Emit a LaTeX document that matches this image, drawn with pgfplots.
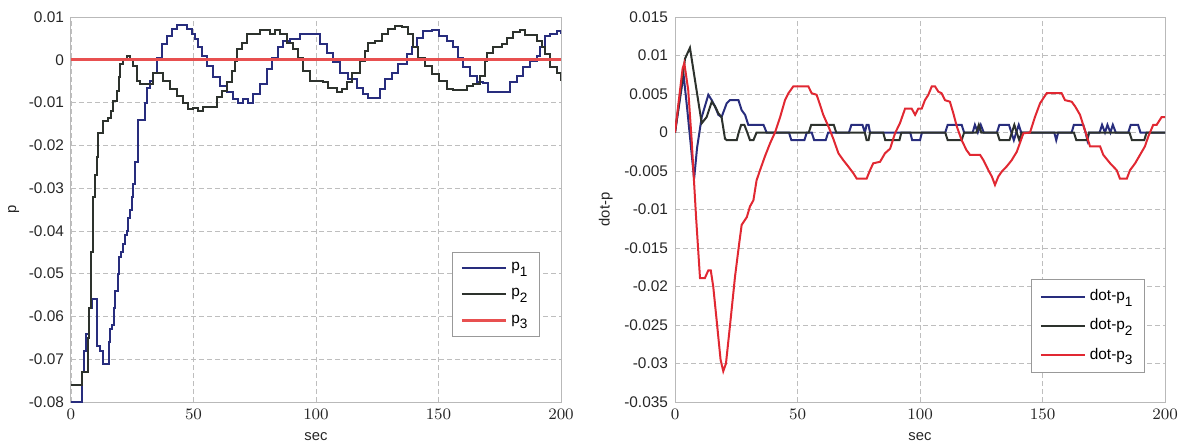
\documentclass[border=0pt]{standalone}
\usepackage{pgfplots}
\pgfplotsset{compat=1.18}
\usepackage{fontspec}
\setmainfont{Liberation Sans}
\definecolor{cblue}{RGB}{40,45,125}
\definecolor{cblack}{RGB}{45,50,45}
\definecolor{cred}{RGB}{225,40,50}
\definecolor{cred2}{RGB}{232,80,80}
\definecolor{gridc}{RGB}{190,190,190}
\definecolor{framec}{RGB}{185,185,185}
\newcommand{\sub}[1]{\raisebox{-0.7ex}{\fontsize{6.8}{7}\selectfont #1}}
\pgfplotsset{
 myaxis/.style={
  scale only axis, width=245pt, height=192.5pt,
  xmin=0, xmax=200, xtick={0,50,100,150,200},
  scaled y ticks=false, scaled x ticks=false,
  grid=major,
  major grid style={gridc, dash pattern=on 2.4pt off 1.6pt, line width=0.4pt},
  axis line style={framec, line width=0.5pt},
  major tick length=0pt,
  tick label style={font=\fontsize{7.7}{9}\selectfont, text=black!85},
  label style={font=\fontsize{7.4}{9}\selectfont, text=black!85},
  xlabel=sec,
  xlabel style={at={(axis description cs:0.5,-0.091)}, anchor=center},
  legend cell align=left,
  legend style={draw=gray!80, line width=0.4pt, fill=white,
    font=\fontsize{7.7}{9}\selectfont, row sep=3.5pt, inner xsep=4pt, inner ysep=3pt},
  legend image code/.code={\draw[#1] (0pt,0pt) -- (22pt,0pt);},
 }
}
\begin{document}
\begin{tikzpicture}
\path[use as bounding box] (-35.5pt,-22.5pt) rectangle (557.5pt,201pt);
\begin{axis}[myaxis, at={(0pt,0pt)}, anchor=south west,
  ymin=-0.08, ymax=0.01,
  ytick={-0.08,-0.07,-0.06,-0.05,-0.04,-0.03,-0.02,-0.01,0,0.01},
  yticklabels={-0.08,-0.07,-0.06,-0.05,-0.04,-0.03,-0.02,-0.01,0,0.01},
  ylabel=p,
  ylabel style={at={(axis description cs:-0.117,0.5)}, anchor=center, rotate=0},
  legend style={at={(0.957,0.39)}, anchor=north east},
]
\addplot[const plot, cblue, line width=1pt] coordinates {
(0,-0.080)(3.7,-0.080)(4.4,-0.073)(5.3,-0.068)(6.1,-0.064)(7.5,-0.058)(8.5,-0.056)(10.3,-0.056)(10.8,-0.067)(11.8,-0.068)(12.9,-0.071)(14.8,-0.071)(15.4,-0.066)(15.9,-0.063)(16.8,-0.062)(17.4,-0.058)(18,-0.054)(18.8,-0.054)(19.3,-0.050)(19.7,-0.046)(20.5,-0.045)(21.2,-0.043)(22,-0.041)(23,-0.040)(23.4,-0.037)(24.1,-0.035)(24.8,-0.032)(25.5,-0.029)(26.1,-0.024)(27.2,-0.024)(27.5,-0.014)(29.5,-0.014)(30.2,-0.010)(30.9,-0.0065)(32.2,-0.005)(33.6,-0.003)(35,0.0005)(37,0.0037)(39,0.0056)(41.1,0.0072)(43.1,0.0082)(45.2,0.0082)(47.2,0.0072)(49.3,0.006)(50.6,0.0048)(52,0.0029)(53.3,0.0009)(55.4,-0.0014)(58.1,-0.0041)(60.8,-0.0061)(63.6,-0.0076)(66.3,-0.0092)(68.3,-0.010)(70.3,-0.0092)(72.4,-0.0102)(74.4,-0.008)(77.1,-0.0057)(79.9,-0.0022)(81.9,0.0005)(84.6,0.0029)(86.7,0.0044)(89.4,0.0048)(93.5,0.006)(97.6,0.006)(101.6,0.0037)(104.4,0.0017)(107.1,-0.0006)(109.8,-0.003)(113.2,-0.0045)(116.6,-0.0065)(119.3,-0.008)(121.3,-0.009)(124.1,-0.009)(126.1,-0.0068)(128.2,-0.0045)(130.9,-0.003)(133.6,-0.001)(137,0.0013)(139.1,0.0029)(141.1,0.0052)(143.8,0.0068)(147.2,0.0069)(150,0.0056)(153.3,0.0044)(156,0.0029)(158.1,0.0005)(160.1,-0.0018)(162.9,-0.0037)(165.6,-0.0053)(168.3,-0.0055)(170.3,-0.0076)(177.8,-0.0076)(179.2,-0.0053)(181.9,-0.0037)(184.6,-0.0018)(187.3,-0.0002)(190.1,0.0009)(191.4,0.0029)(193.5,0.0056)(195.5,0.006)(198.2,0.0068)(200,0.006)};
\addlegendentry{p\sub{1}}
\addplot[const plot, cblack, line width=1pt] coordinates {
(0,-0.076)(3.7,-0.076)(4.4,-0.073)(6.1,-0.073)(6.8,-0.065)(7.5,-0.058)(8.3,-0.045)(9.1,-0.032)(9.8,-0.027)(10.5,-0.0228)(11.1,-0.017)(12.5,-0.017)(13.2,-0.0143)(15.2,-0.0137)(16.2,-0.012)(17.3,-0.0096)(18.7,-0.0072)(19.4,-0.004)(20,-0.001)(21.3,0.0002)(22.7,0.001)(24.1,0.0002)(25.4,-0.0014)(26.8,-0.0049)(28.2,-0.0057)(30.9,-0.0057)(33.6,-0.003)(35.6,-0.003)(37.7,-0.0049)(40.4,-0.0068)(43.1,-0.0084)(45.8,-0.010)(47.9,-0.0115)(49.9,-0.0113)(52,-0.0119)(54,-0.0111)(57.4,-0.0111)(59.5,-0.0088)(61.5,-0.0072)(63.6,-0.0053)(65.6,-0.0026)(67,-0.0002)(67.6,0.0025)(69.7,0.004)(71.7,0.006)(75.8,0.006)(77.1,0.0069)(79.2,0.0069)(81.2,0.006)(83.3,0.0069)(85.3,0.006)(88,0.004)(90.7,0.0025)(92.8,0.0005)(94.8,-0.0026)(97.6,-0.0049)(103,-0.0051)(105,-0.0065)(108.4,-0.0076)(110.5,-0.0068)(112.5,-0.0053)(114.6,-0.003)(118,-0.0002)(120,0.0021)(121.3,0.004)(124.1,0.0044)(126.8,0.006)(129.5,0.0072)(132.2,0.0079)(135,0.0077)(137.7,0.006)(139.7,0.0029)(141.8,0.0005)(144.5,-0.0014)(147.2,-0.0033)(150,-0.0049)(153.3,-0.0068)(156,-0.0071)(158.8,-0.0071)(161.5,-0.0061)(164.2,-0.0057)(166.9,-0.0037)(169,-0.0002)(169.7,0.0017)(172.4,0.0029)(175.8,0.0037)(177.8,0.0052)(180.5,0.0064)(183.3,0.0069)(185.3,0.0058)(187.3,0.0058)(190.1,0.0044)(192.1,0.0029)(193.5,0.0013)(195.5,-0.0018)(198.2,-0.003)(200,-0.0049)};
\addlegendentry{p\sub{2}}
\addplot[cred2, line width=1.5pt] coordinates {(0,0)(200,0)};
\addlegendentry{p\sub{3}}
\end{axis}
\begin{axis}[myaxis, at={(302pt,0pt)}, anchor=south west,
  ymin=-0.035, ymax=0.015,
  ytick={-0.035,-0.03,-0.025,-0.02,-0.015,-0.01,-0.005,0,0.005,0.01,0.015},
  yticklabels={-0.035,-0.03,-0.025,-0.02,-0.015,-0.01,-0.005,0,0.005,0.01,0.015},
  ylabel=dot-p,
  ylabel style={at={(axis description cs:-0.141,0.5)}, anchor=center, rotate=0},
  legend style={at={(0.959,0.319)}, anchor=north east},
]
\addplot[cblue, line width=1pt] coordinates {
(0,0)(3.5,0.0075)(5,0.003)(7.8,-0.006)(9,-0.002)(10.9,0.002)(13.6,0.0049)(15,0.0042)(16.3,0.0034)(17.7,0.0023)(19,0.002)(21.1,0.0038)(22.4,0.0042)(25.9,0.0042)(27.2,0.0029)(28.6,0.0023)(29.9,0.001)(36.1,0.001)(37.4,0)(46.5,0)(47.5,-0.001)(52.8,-0.001)(53.8,0)(55.8,0)(56.8,-0.001)(61.5,-0.001)(62.5,0)(71,0)(72,0.001)(76.5,0.001)(77.5,0)(78.2,0.001)(79,0.001)(79.6,0)(96,0)(96.8,-0.001)(100,-0.001)(100.8,0)(110.3,0)(111.3,0.001)(117,0.001)(118,0)(121.5,0)(122.4,0.001)(123.6,0)(124.8,0.001)(126,0)(131.4,0)(132.4,0.001)(136.3,0.001)(137.3,0)(138.3,-0.001)(139.3,0)(140.3,0.001)(141.3,0)(154.8,0)(155.6,-0.001)(156.4,0)(161.9,0)(162.8,0.001)(166.6,0.001)(167.6,0)(168.3,-0.001)(169,0)(173.3,0)(174.3,0.001)(175.5,0)(176.5,0.001)(177.7,0)(178.7,0.001)(179.9,0)(185,0)(186,0.001)(189,0.001)(190,0)(200,0)};
\addlegendentry{dot-p\sub{1}}
\addplot[cblack, line width=1pt] coordinates {
(0,0)(4.1,0.0096)(6.1,0.011)(10.9,0.0012)(12.9,0.002)(15,0.004)(16.3,0.0034)(17.7,0.0025)(19,0.002)(20.4,-0.0008)(21.1,-0.001)(25.2,-0.001)(26,0)(27,0.001)(28.3,0.001)(29.5,0)(30.6,-0.001)(32,-0.001)(33.3,0)(54.6,0)(55.6,0.001)(64.8,0.001)(65.8,0)(77.5,0)(78.2,-0.001)(79,-0.001)(79.6,0)(85,0)(85.8,-0.001)(91.6,-0.001)(92.4,0)(110.3,0)(111.3,-0.001)(117,-0.001)(118,0)(123,0)(124,0.001)(125,0)(131.5,0)(132.5,-0.001)(136.5,-0.001)(137.5,0)(138.5,0.001)(139.5,0)(140.5,-0.001)(141.5,0)(162.8,0)(163.8,-0.001)(168,-0.001)(169,0)(185.5,0)(186.5,-0.001)(191.5,-0.001)(192.5,0)(200,0)};
\addlegendentry{dot-p\sub{2}}
\addplot[cred, line width=1pt] coordinates {
(0,0)(3.1,0.0083)(3.8,0.009)(5.4,0.0055)(6.8,-0.001)(8.6,-0.011)(10.2,-0.0189)(12.2,-0.0189)(13.6,-0.0179)(14.6,-0.0179)(15.6,-0.020)(17,-0.0244)(18.6,-0.0295)(19.7,-0.031)(20.8,-0.030)(22.4,-0.0252)(24.5,-0.0187)(26.2,-0.0144)(27.2,-0.012)(29.3,-0.011)(30.6,-0.0096)(32,-0.0088)(33.3,-0.0062)(34.7,-0.0049)(36.7,-0.0031)(38.8,-0.0014)(40.8,0)(42.9,0.002)(44.9,0.0042)(46.3,0.0051)(48.3,0.006)(54.4,0.006)(55.8,0.0051)(57.8,0.0049)(59.2,0.0036)(60.5,0.0023)(62.6,0.0008)(64.6,-0.0008)(66.7,-0.0027)(68.7,-0.0036)(70.7,-0.0044)(72.8,-0.0053)(74.2,-0.006)(78.2,-0.006)(79.6,-0.0049)(80.9,-0.004)(83.7,-0.0038)(85.7,-0.0027)(87.8,-0.0021)(89.8,-0.0001)(91.8,0.0012)(93.9,0.0031)(96.6,0.0031)(98,0.0023)(99.3,0.0031)(100.7,0.0031)(102,0.0042)(103.4,0.0049)(104.8,0.006)(106.1,0.006)(107.5,0.0053)(108.8,0.0051)(110.2,0.0042)(112.2,0.004)(113.6,0.0025)(115,0.0008)(117,-0.001)(119,-0.0023)(120.4,-0.0029)(124.5,-0.0029)(125.9,-0.0036)(127.9,-0.0049)(129.3,-0.0057)(130.6,-0.0068)(132,-0.0057)(133.3,-0.0051)(135.4,-0.0044)(137.4,-0.0036)(139.5,-0.0025)(142.2,-0.0001)(144.9,0)(146.9,0.002)(149,0.0038)(151.7,0.0051)(157.8,0.0051)(159.2,0.0042)(161.9,0.004)(163.3,0.0034)(165.3,0.0023)(167.3,0.0003)(169.4,-0.0018)(173.5,-0.0018)(174.8,-0.0029)(177.6,-0.004)(180.3,-0.0049)(181.6,-0.006)(184.4,-0.006)(185.7,-0.0049)(187.8,-0.004)(189.8,-0.0029)(191.8,-0.0018)(193.2,-0.0005)(195.2,0.001)(196.6,0.001)(198.6,0.002)(200,0.002)};
\addlegendentry{dot-p\sub{3}}
\end{axis}
\end{tikzpicture}
\end{document}
